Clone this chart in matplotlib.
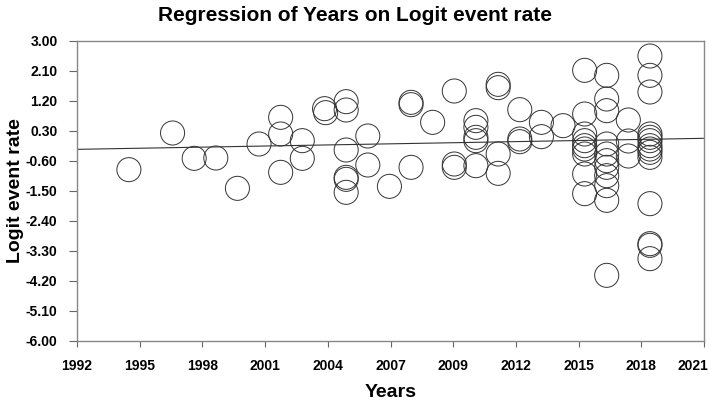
import numpy as np
import matplotlib.pyplot as plt
import matplotlib.transforms as mtransforms

years = [1994.4, 1996.42, 1997.42, 1998.42, 1999.42, 2000.42,
         2001.42, 2001.42, 2001.42, 2002.42, 2002.42,
         2003.45, 2003.5, 2004.45, 2004.45, 2004.45, 2004.45, 2004.45, 2004.45,
         2005.45, 2005.45, 2006.45,
         2007.45, 2007.45, 2007.45, 2008.45, 2009.45, 2009.45, 2009.45,
         2010.45, 2010.45, 2010.45, 2010.45, 2010.45,
         2011.48, 2011.48, 2011.48, 2011.48,
         2012.48, 2012.48, 2012.48, 2013.48, 2013.48, 2014.48,
         2015.48, 2015.48, 2015.48, 2015.48, 2015.48, 2015.48, 2015.48, 2015.48, 2015.48,
         2016.5, 2016.5, 2016.5, 2016.5, 2016.5, 2016.5, 2016.5, 2016.5, 2016.5, 2016.5, 2016.5,
         2017.5, 2017.5, 2017.5,
         2018.5, 2018.5, 2018.5, 2018.5, 2018.5, 2018.5, 2018.5, 2018.5, 2018.5, 2018.5,
         2018.5, 2018.5, 2018.5, 2018.5]
logit = [-0.86, 0.24, -0.52, -0.51, -1.42, -0.09,
         0.71, 0.21, -0.94, 0.01, -0.52,
         0.97, 0.85, 1.18, 0.93, -0.27, -1.09, -1.15, -1.54,
         0.15, -0.72, -1.36,
         1.16, 1.09, -0.79, 0.56, 1.50, -0.69, -0.79,
         0.61, 0.41, 0.11, 0.01, -0.74,
         1.70, 1.60, -0.39, -0.97,
         0.94, 0.06, -0.02, 0.56, 0.13, 0.46,
         2.12, 0.81, 0.21, 0.01, -0.14, -0.24, -0.39, -0.99, -1.58,
         1.97, 1.26, 0.91, -0.09, -0.39, -0.59, -0.79, -1.04, -1.34, -1.78, -4.03,
         0.63, 0.0, -0.45,
         2.55, 1.97, 1.47, 0.21, 0.11, 0.01, -0.14, -0.24, -0.34, -0.49,
         -1.88, -3.08, -3.13, -3.53]

# regression line as drawn in the picture
line_years = [1992, 2021]
intercept_1992 = -0.25
slope = 0.0114

xtick_labels = ['1992', '1995', '1998', '2001', '2004', '2007', '2009', '2012', '2015', '2018', '2021']
ytick_vals = [3.0, 2.1, 1.2, 0.3, -0.6, -1.5, -2.4, -3.3, -4.2, -5.1, -6.0]

plt.rcParams['font.family'] = ['Liberation Sans', 'DejaVu Sans']

fig = plt.figure(figsize=(7.09, 4.01), dpi=100)
ax = fig.add_axes([77 / 709, 1 - 341 / 401, 627 / 709, 300 / 401])

ax.scatter(years, logit, s=300, facecolors='none', edgecolors='#333333', linewidths=0.7, zorder=3)
lx = np.array(line_years)
ax.plot(lx, intercept_1992 + slope * (lx - 1992), color='#333333', lw=0.8, zorder=2)

ax.set_xlim(1992, 2021)
ax.set_ylim(-6.0, 3.0)
ax.set_xticks(np.linspace(1992, 2021, 11))
ax.set_xticklabels(xtick_labels)
ax.set_yticks(ytick_vals)
ax.set_yticklabels([f'{v:.2f}' for v in ytick_vals])

for s in ax.spines.values():
    s.set_color('#888888')
    s.set_linewidth(1.0)
ax.tick_params(direction='out', width=0.8, color='#666666', labelsize=10)
ax.tick_params(axis='x', length=4, pad=9)
ax.tick_params(axis='y', length=6, pad=8)
for lab in ax.get_xticklabels() + ax.get_yticklabels():
    lab.set_fontweight('bold')

# last year label pulled in so it stays inside the figure
last = ax.get_xticklabels()[-1]
last.set_horizontalalignment('right')
last.set_transform(last.get_transform() + mtransforms.ScaledTranslation(4 / 100, 0, fig.dpi_scale_trans))

ax.set_xlabel('Years', fontsize=14, fontweight='bold', labelpad=8)
ax.set_ylabel('Logit event rate', fontsize=14, fontweight='bold', labelpad=1)
fig.text(0.5, 0.962, 'Regression of Years on Logit event rate', fontsize=15, fontweight='bold',
         ha='center', va='center')

fig.savefig('out.png', dpi=100)
